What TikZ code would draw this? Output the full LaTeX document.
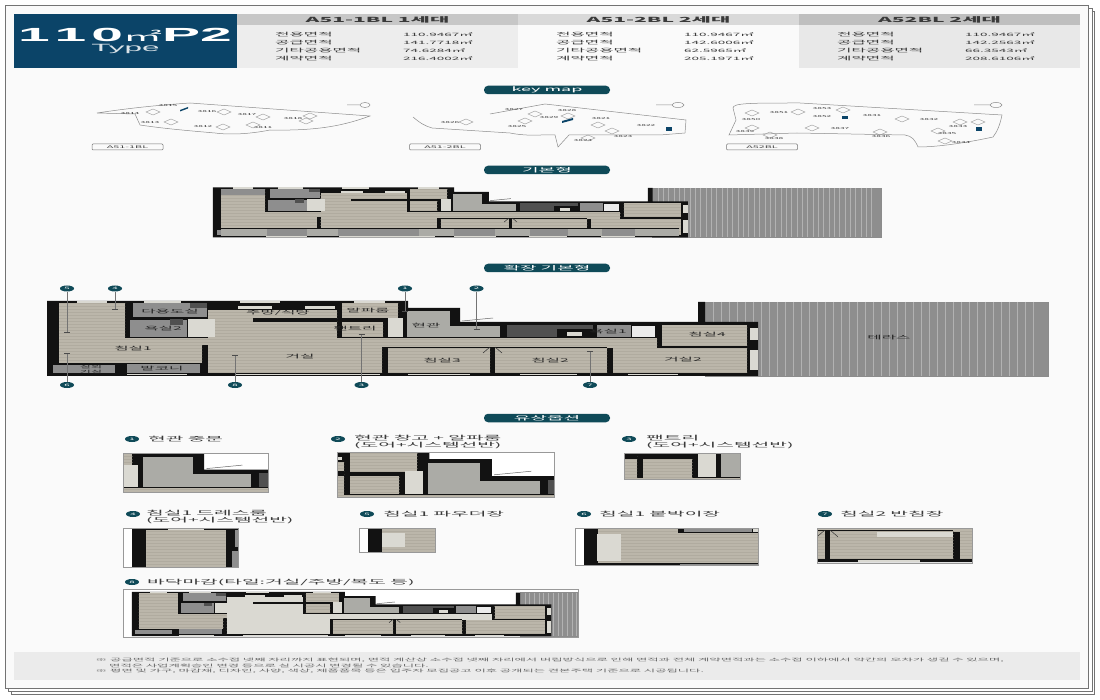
\documentclass[tikz,border=0pt]{standalone}
\usepackage{fontspec}
\usepackage{tikz}
\usetikzlibrary{shapes.geometric,calc,patterns}
\setmainfont[FakeStretch=3.0]{Noto Sans CJK KR}
\newfontfamily\titlefont[FakeStretch=3.0]{Liberation Sans}

\definecolor{navy}{HTML}{0B4468}
\definecolor{teal}{HTML}{0F4A58}
\definecolor{paper}{HTML}{FAFAFA}
\definecolor{wood}{HTML}{BBB6AA}
\definecolor{grain}{HTML}{B0AB9F}
\definecolor{wallc}{HTML}{121212}
\definecolor{tilec}{HTML}{8E8E8E}
\definecolor{hallc}{HTML}{ABABA6}
\definecolor{lightc}{HTML}{DAD9D2}
\definecolor{darkc}{HTML}{505050}
\definecolor{txtc}{HTML}{3A3A3A}
\colorlet{floorc}{wood}
\colorlet{floorgrain}{grain}

\tikzset{
  pagebox/.style={draw=black!55,line width=0.8pt},
  woodfill/.style={fill=wood,postaction={pattern=horizontal lines,pattern color=grain}},
  floorfill/.style={fill=floorc,postaction={pattern=horizontal lines,pattern color=floorgrain}},
  hdrtxt/.style={font=\bfseries\fontsize{7}{8}\selectfont,text=txtc,inner sep=0},
  rowtxt/.style={font=\fontsize{5.2}{6}\selectfont,text=txtc,inner sep=0,anchor=west},
  valtxt/.style={font=\fontsize{4.5}{5}\selectfont,text=txtc,inner sep=0,anchor=west},
  pill/.style={rectangle,rounded corners=4pt,fill=teal,text=white,minimum width=126pt,minimum height=8.5pt,inner sep=0,font=\fontsize{6}{6.4}\selectfont},
  optmark/.style={ellipse,fill=teal,text=white,minimum width=14pt,minimum height=6pt,inner sep=0,font=\fontsize{3.2}{4}\selectfont},
  leader/.style={draw=black!55,line width=0.8pt},
  opttxt/.style={font=\fontsize{6.4}{6.4}\selectfont,text=txtc,inner sep=0,anchor=west,align=left},
  roomtxt/.style={font=\fontsize{5.2}{5.2}\selectfont,text=black!85,inner sep=0,align=center},
  notetxt/.style={font=\fontsize{4.1}{4.4}\selectfont,text=black!60,inner sep=0,anchor=west},
  keytxt/.style={font=\fontsize{2.8}{3}\selectfont,text=black!75,inner sep=0},
  sitebox/.style={draw=black!55,line width=0.5pt,rounded corners=1pt,minimum width=71pt,minimum height=6pt,inner sep=0,font=\fontsize{3.6}{4}\selectfont,text=black!75},
  siteline/.style={draw=black!45,line width=0.5pt},
  bldg/.style={draw=black!40,line width=0.4pt},
}

% one floor plan, in the pixels of the large drawing
\newcommand{\planbody}{
\fill[tilec] (705,302) rectangle (1048,376);
\draw[black!45,line width=0.8pt] (705,302) rectangle (1048,376);
\foreach \x in {713,721,...,1040} \draw[black!30,line width=0.5pt] (\x,302) -- (\x,376);
\fill[wallc] (47,301) -- (408,301) -- (408,308) -- (460,308) -- (460,322) -- (698,322) -- (698,302) -- (705,302) -- (705,322) -- (758,322) -- (758,376) -- (47,376) -- cycle;
% floors
\path[woodfill] (59,303) rectangle (125,338);
\path[woodfill] (59,338) rectangle (202,363);
\path[woodfill] (202,338) rectangle (208,345);
\path[floorfill] (208,310) rectangle (337,338);
\path[floorfill] (208,338) rectangle (382,373);
\path[floorfill] (382,338) rectangle (657,347);
\path[floorfill] (607,347) rectangle (657,348);
\path[woodfill] (388,348) rectangle (490,373);
\path[woodfill] (495,348) rectangle (607,373);
\path[woodfill] (613,348) rectangle (747,373);
\path[woodfill] (662,325) rectangle (747,346);
\path[woodfill] (342,303) rectangle (398,318);
\path[woodfill] (342,322) rectangle (383,337);
\fill[wallc] (253,318) rectangle (337,322);
% wet rooms and storage
\fill[tilec] (133,303) rectangle (207,317);
\fill[tilec] (130,320) rectangle (187,337);
\fill[darkc] (190,303) rectangle (207,308);
\fill[darkc] (170,319) rectangle (183,325);
\fill[lightc] (188,319) rectangle (215,337);
\fill[hallc] (407,311) rectangle (450,337);
\fill[lightc] (388,318) rectangle (403,337);
\fill[hallc] (450,326) rectangle (500,337);
\fill[darkc] (507,325) rectangle (593,337);
\fill[wallc] (557,329) rectangle (597,337);
\fill[lightc] (567,332) rectangle (582,336);
\fill[tilec] (597,325) rectangle (631,337);
\fill[white!92!black] (632,326) rectangle (655,337);
\fill[tilec] (53,365) rectangle (115,373);
\fill[tilec] (127,364) rectangle (200,373);
% windows
\fill[lightc] (77,301) rectangle (107,303);
\fill[lightc] (144,301) rectangle (181,303);
\fill[lightc] (240,301) rectangle (280,303);
\fill[lightc] (354,301) rectangle (385,303);
\fill[lightc] (238,306) rectangle (272,309);
\fill[lightc] (305,306) rectangle (335,309);
\fill[lightc] (127,374) rectangle (187,375.5);
\fill[lightc] (235,374) rectangle (380,375.5);
\fill[lightc] (408,374) rectangle (470,375.5);
\fill[lightc] (520,374) rectangle (577,375.5);
\fill[lightc] (628,374) rectangle (678,375.5);
\fill[lightc] (750,328) rectangle (758,340);
\fill[lightc] (750,350) rectangle (758,370);
% doors and porch line
\draw[black!80,line width=0.5pt] (490,347) -- (483,353);
\draw[black!80,line width=0.5pt] (495,347) -- (502,353);
\draw[black!60,line width=0.5pt] (462,321) -- (493,318);
}

% #1 #2 place of the crop on the sheet, #3 zoom, #4-#7 crop in plan pixels
\newcommand{\cropview}[7]{
\begin{scope}[shift={({#1-#3*#4},{#2-#3*#5})},scale=#3]
\begin{scope}
\clip (#4,#5) rectangle (#6,#7);
\fill[white] (#4,#5) rectangle (#6,#7);
\planbody
\end{scope}
\draw[black!40,line width=0.5pt] (#4,#5) rectangle (#6,#7);
\end{scope}
}

\newcommand{\blockinfo}[8]{
\fill[#2] (#1,14) rectangle ({#1+281},25);
\fill[#3] (#1,25) rectangle ({#1+281},68);
\node[hdrtxt] (title#1) at ({#1+140.5},19.5) {#4};
\node[rowtxt] (ra#1) at ({#1+38},35) {전용면적};
\node[rowtxt] (rb#1) at ({#1+38},43) {공급면적};
\node[rowtxt] (rc#1) at ({#1+38},51) {기타공용면적};
\node[rowtxt] (rd#1) at ({#1+38},59) {계약면적};
\node[valtxt] (va#1) at ({#1+166},35) {#5㎡};
\node[valtxt] (vb#1) at ({#1+166},43) {#6㎡};
\node[valtxt] (vc#1) at ({#1+166},51) {#7㎡};
\node[valtxt] (vd#1) at ({#1+166},59) {#8㎡};
}

\begin{document}
\begin{tikzpicture}[x=1pt,y=-1pt]
\useasboundingbox (0,0) rectangle (1100,700);
\fill[white] (0,0) rectangle (1100,700);

% stacked sheets
\draw[pagebox,fill=white] (11,11) rectangle (1094,694);
\draw[pagebox,fill=white] (8.5,8) rectangle (1092,691);
\draw[pagebox,fill=paper] (5.5,5) rectangle (1088,688);

% header
\fill[navy] (14,14) rectangle (237,68);
\node[inner sep=0,text=white,text height=13pt,text depth=0pt,font=\titlefont\bfseries\fontsize{19}{20}\selectfont] (typename) at (125,35) {1\hspace{5pt}1\hspace{5pt}0\smash{\rmfamily\mdseries\fontsize{13}{14}\selectfont ㎡}P2};
\node[inner sep=0,text=white!85!navy,text height=6.5pt,text depth=0pt,font=\titlefont\fontsize{10.5}{11}\selectfont] (typeword) at (125.5,48.5) {\smash{Type}};
\blockinfo{237}{black!22}{black!7}{A51-1BL 1세대}{110.9467}{141.7718}{74.6284}{216.4002}
\blockinfo{518}{black!15}{black!2}{A51-2BL 2세대}{110.9467}{142.6006}{62.5965}{205.1971}
\blockinfo{799}{black!25}{black!9}{A52BL 2세대}{110.9467}{142.2563}{66.3543}{208.6106}

% section titles
\node[pill] (keypill) at (547,90) {key map};
\node[pill] (basepill) at (547,170) {기본형};
\node[pill] (widepill) at (547,268) {확장 기본형};
\node[pill] (optpill) at (547,418) {유상옵션};

% key maps
\draw[siteline] (97,113) .. controls (130,108) and (160,105) .. (190,103) -- (370,116) .. controls (345,125) and (320,131) .. (270,130) .. controls (250,134) and (230,135) .. (215,133) .. controls (180,130) and (160,128) .. (140,125) -- (135,114) -- cycle;
\draw[siteline] (413,117) .. controls (420,123) and (425,126) .. (432,128) -- (510,133) .. controls (530,137) and (545,134) .. (555,135) -- (558,147) -- (569,135) -- (660,135) -- (685,133) -- (686,120) -- (545,104) -- (490,114);
\draw[siteline] (733,108) .. controls (733,103) and (750,103) .. (800,103) -- (1002,115) .. controls (1000,125) and (997,132) .. (993,137) .. controls (970,142) and (940,147) .. (918,147) .. controls (915,140) and (912,136) .. (905,135) -- (797,133) -- (729,135) -- (736,120) -- cycle;
\foreach \x/\y/\n in {168/106/3815,130/114/3814,150/123/3813,203/127/3812,207/112/3816,247/115/3817,293/119/3818,263/128/3811,
  514/110/3827,450/123/3826,517/127/3825,567/111/3828,549/118/3829,601/119/3821,646/126/3822,623/137/3823,583/141/3824,
  751/120/3850,779/113/3851,822/109/3853,822/117/3852,872/116/3831,929/120/3832,958/127/3833,947/134/3835,961/143/3834,881/137/3836,840/129/3837,745/132/3839,774/139/3838}
  \node[keytxt] (bl\n) at (\x,\y) {\n};
\foreach \x/\y in {153/112,171/122,223/127,224/112,263/117,253/125,306/121,310/116,
  466/122,525/121,535/114,568/116,588/138,612/131,598/125,
  752/128,770/135,812/128,880/132,938/131,945/141,902/119,
  752/113,798/112,843/110,960/122,978/122}
  \draw[bldg] (\x-7,\y) -- (\x,\y-3) -- (\x+7,\y) -- (\x,\y+3) -- cycle;
\fill[navy] (180,110) -- (188,107) -- (188,108.5) -- (180,111.5) -- cycle;
\fill[navy] (562,121) -- (573,118) -- (573,120) -- (562,123) -- cycle;
\fill[navy] (666,127) rectangle (672,131);
\fill[navy] (842,116) rectangle (848,119);
\fill[navy] (976,127) rectangle (982,131);
\node[sitebox] (sitea) at (127.5,147) {A51-1BL};
\node[sitebox] (siteb) at (445,147) {A51-2BL};
\node[sitebox] (sitec) at (762,147) {A52BL};
\draw[siteline] (347,105) -- (360,105) (360,105) arc (180:-180:5 and 2.5);
\draw[siteline] (656,105) -- (672,105) (672,105) arc (180:-180:6 and 2.5);
\draw[siteline] (974,105) -- (990,105) (990,105) arc (180:-180:6 and 2.5);

% basic plan
\begin{scope}[shift={(181.6,-13.8)},scale=.668]
\planbody
\fill[hallc] (59,364) rectangle (745,374);
\fill[tilec] (128,364) rectangle (188,374);
\fill[tilec] (234,364) rectangle (356,374);
\fill[tilec] (408,364) rectangle (469,374);
\fill[tilec] (521,364) rectangle (578,374);
\fill[tilec] (629,364) rectangle (679,374);
\fill[wallc] (59,362) rectangle (745,364);
\fill[tilec] (59,303) rectangle (125,313);
\end{scope}

% extended plan
\planbody
\node[roomtxt] (rdress) at (170,312) {다용도실};
\node[roomtxt] (rbathb) at (163,329) {욕실2};
\node[roomtxt] (rkitchen) at (278,313) {주방/식당};
\node[roomtxt] (ralpha) at (368,311) {알파룸};
\node[roomtxt] (rpantry) at (355,329) {팬트리};
\node[roomtxt] (rhall) at (426,326) {현관};
\node[roomtxt] (rbeda) at (133,349) {침실1};
\node[roomtxt] (rliving) at (300,357) {거실};
\node[roomtxt,font=\fontsize{4}{4.6}\selectfont] (routdoor) at (91,369.5) {실외\\기실};
\node[roomtxt] (rbalcony) at (162,369) {발코니};
\node[roomtxt] (rbedc) at (442,361) {침실3};
\node[roomtxt] (rbedb) at (550,361) {침실2};
\node[roomtxt] (rbatha) at (608,332) {욕실1};
\node[roomtxt] (rbedd) at (707,335) {침실4};
\node[roomtxt] (rlivingb) at (683,360) {거실2};
\node[roomtxt] (rterrace) at (889,338) {테라스};

% option markers on the plan
\foreach \n/\x/\y/\ey in {5/67/288.5/332,4/115/288.5/309,1/405/288.5/311,2/476.5/288.5/329,6/67/385/353.5,8/235/385/355,3/361.5/385/334,7/590/385/351}{
  \node[optmark] (mark\n) at (\x,\y) {\n};
  \coordinate (end\n) at (\x,\ey);
  \draw[leader] (mark\n) -- (end\n);
  \draw[black!70,line width=0.8pt] ($(end\n)+(-3,0)$) -- ($(end\n)+(3,0)$);
}

% option crops
\cropview{123}{453.5}{1.16}{390}{308}{515}{341}
\cropview{337}{452}{1.2}{331}{302}{512}{339.5}
\cropview{624}{453}{1.2}{326}{317}{423}{339}
\cropview{123}{528}{1.2}{39.5}{301}{135.5}{333.5}
\cropview{359}{528}{1.2}{39.5}{330}{103}{350}
\fill[lightc] (382,533) rectangle (405,547);
\cropview{575}{528}{1.2}{39.5}{334}{192}{365}
\fill[lightc] (597,534) rectangle (621,561);
\cropview{817}{528}{1.1}{483}{345}{624}{377}
\fill[lightc] (877,532) rectangle (953,537);
\begin{scope}
\colorlet{floorc}{lightc}
\colorlet{floorgrain}{lightc}
\cropview{123}{589}{.59}{32}{296}{803}{377}
\end{scope}

% option titles
\node[optmark] (opta) at (132,439) {1};
\node[opttxt] (optatxt) at (148,439) {현관 중문};
\node[optmark] (optb) at (338,439) {2};
\node[opttxt] (optbtxt) at (354,442) {현관 창고 + 알파룸\\(도어+시스템선반)};
\node[optmark] (optc) at (629,439) {3};
\node[opttxt] (optctxt) at (646,442) {팬트리\\(도어+시스템선반)};
\node[optmark] (optd) at (133,514) {4};
\node[opttxt] (optdtxt) at (146,517) {침실1 드레스룸\\(도어+시스템선반)};
\node[optmark] (opte) at (367,514) {5};
\node[opttxt] (optetxt) at (383,514) {침실1 파우더장};
\node[optmark] (optf) at (584,514) {6};
\node[opttxt] (optftxt) at (599,514) {침실1 붙박이장};
\node[optmark] (optg) at (825,514) {7};
\node[opttxt] (optgtxt) at (840,514) {침실2 반침장};
\node[optmark] (opth) at (132,582) {8};
\node[opttxt] (opthtxt) at (147,582) {바닥마감(타일:거실/주방/복도 등)};

% notes
\fill[black!8] (14,652) rectangle (1080,680);
\node[notetxt] (notea) at (95,660) {※ 공급면적 기준으로 소수점 넷째 자리까지 표현되며, 면적 계산상 소수점 넷째 자리에서 버림방식으로 인해 면적과 전체 계약면적과는 소수점 이하에서 약간의 오차가 생길 수 있으며,};
\node[notetxt] (noteb) at (109,665.5) {면적은 사업계획승인 변경 등으로 실 시공시 변경될 수 있습니다.};
\node[notetxt] (notec) at (95,671) {※ 평면 및 가구, 마감재, 디자인, 사양, 색상, 제품품목 등은 입주자 모집공고 이후 공개되는 견본주택 기준으로 시공됩니다.};
\end{tikzpicture}
\end{document}
